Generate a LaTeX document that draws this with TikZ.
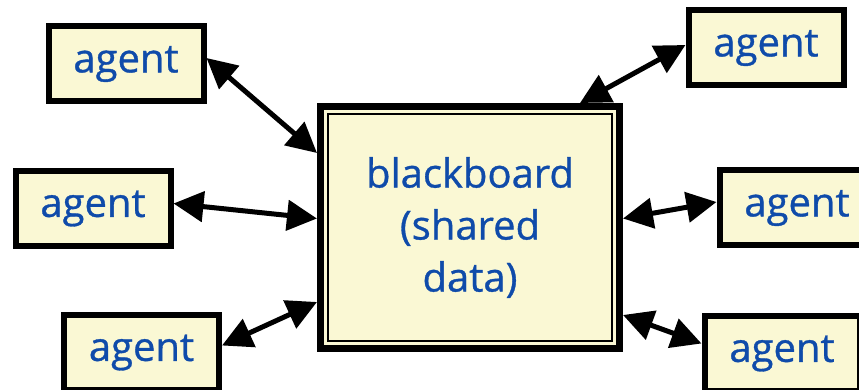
\documentclass[tikz,border=0pt]{standalone}
\usepackage{fontspec}
\newfontfamily\labelfont{Open Sans}[UprightFeatures={FakeBold=0.8}]
\usetikzlibrary{arrows.meta,calc}
\definecolor{BoxClr}{RGB}{250,248,212}
\definecolor{TextClr}{RGB}{15,75,170}

\begin{document}
\begin{tikzpicture}[x=0.5pt,y=-0.5pt]
\tikzset{agent/.style={draw=black,line width=3pt,fill=BoxClr,text=TextClr,
    minimum width=77.5pt,minimum height=37.5pt,inner sep=0pt,
    font=\labelfont\fontsize{20}{26}\selectfont},
  board/.style={draw=black,line width=3.5pt,fill=BoxClr,text=TextClr,
    minimum width=149.5pt,minimum height=121pt,align=center,inner sep=0pt,
    font=\labelfont\fontsize{20}{26}\selectfont},
  link/.style={line width=2.5pt,{Triangle[length=15pt,width=15pt]}-{Triangle[length=15pt,width=15pt]}}}
\useasboundingbox (0,0) rectangle (859,390);

\node[board] (bb) at (470,227.5) {blackboard\\(shared\\data)};
\draw[line width=1pt] ($(bb.north west)+(11,11)$) rectangle ($(bb.south east)+(-11,-11)$);

\node[agent] (a1) at (126,64) {agent};
\node[agent] (a2) at (766,48) {agent};
\node[agent] (a3) at (93,208.5) {agent};
\node[agent] (a4) at (797,208) {agent};
\node[agent] (a5) at (141.5,352.5) {agent};
\node[agent] (a6) at (782,353.5) {agent};

\draw[link] ($(a1.east)+(0,-6)$) -- ($(bb.north west)+(0,50)$);
\draw[link] ($(a2.west)+(0,-3)$) -- ($(bb.north east)+(-43,0)$);
\draw[link] ($(a3.east)+(0,-5)$) -- ($(bb.west)+(0,-9)$);
\draw[link] ($(a4.west)+(0,-6)$) -- ($(bb.east)+(0,-9)$);
\draw[link] ($(a5.east)+(0,-7)$) -- ($(bb.south west)+(0,-50)$);
\draw[link] ($(a6.west)+(0,-10)$) -- ($(bb.south east)+(0,-37)$);

\end{tikzpicture}
\end{document}
